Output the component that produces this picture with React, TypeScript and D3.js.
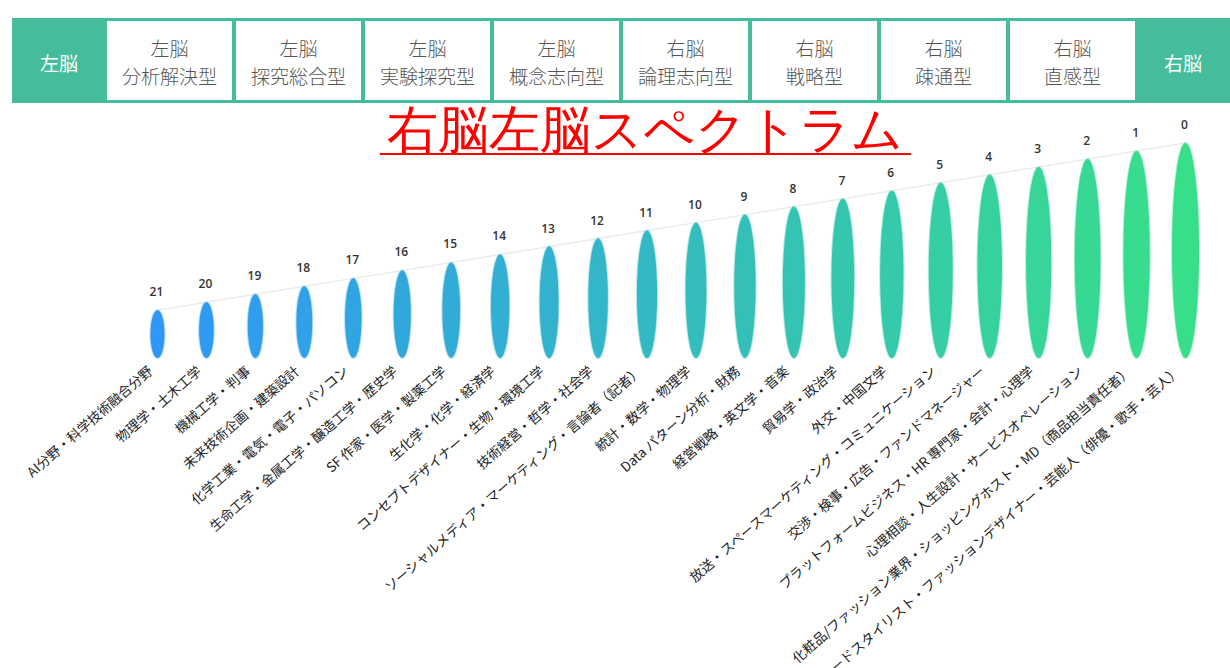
// Right-brain / left-brain spectrum: header strip of brain types, then a row of
// ellipse "bars" growing from left to right, each with its rank and field labels.

import * as d3 from "d3";

const W = 1230, H = 668;

const edgeLeft = "左脳";
const edgeRight = "右脳";
const typeSide = ["左脳", "左脳", "左脳", "左脳", "右脳", "右脳", "右脳", "右脳"];
const typeName = ["分析解決型", "探究総合型", "実験探究型", "概念志向型", "論理志向型", "戦略型", "疎通型", "直感型"];

const title = "右脳左脳スペクトラム";

const ranks = ["21", "20", "19", "18", "17", "16", "15", "14", "13", "12", "11",
  "10", "9", "8", "7", "6", "5", "4", "3", "2", "1", "0"];
const fields = [
  "AI分野・科学技術融合分野",
  "物理学・土木工学",
  "機械工学・判事",
  "未来技術企画・建築設計",
  "化学工業・電気・電子・パソコン",
  "生命工学・金属工学・醸造工学・歴史学",
  "SF 作家・医学・製薬工学",
  "生化学・化学・経済学",
  "コンセプトデザイナー・生物・環境工学",
  "技術経営・哲学・社会学",
  "ソーシャルメディア・マーケティング・言論者（記者）",
  "統計・数学・物理学",
  "Data パターン分析・財務",
  "経営戦略・英文学・音楽",
  "貿易学・政治学",
  "外交・中国文学",
  "放送・スペースマーケティング・コミュニケーション",
  "交渉・検事・広告・ファンドマネージャー",
  "プラットフォームビジネス・HR 専門家・会計・心理学",
  "心理相談・人生設計・サービスオペレーション",
  "化粧品/ファッション業界・ショッピングホスト・MD（商品担当責任者）",
  "フードスタイリスト・ファッションデザイナー・芸能人（俳優・歌手・芸人）",
];
const scores = [6, 7, 8, 9, 10, 11, 12, 13, 14, 15, 16, 17, 18, 19, 20, 21, 22, 23, 24, 25, 26, 27];

const GREEN = "#45bd9c";
const JP = "'Noto Sans CJK JP', 'Noto Sans', sans-serif";

export default function App() {
  const boxX = d3.scaleBand<number>().domain(typeName.map((_, i) => i))
    .range([107, 1135]).paddingInner(0.031).paddingOuter(0);

  const x = d3.scaleBand<string>().domain(ranks).range([133, 1210]);
  const base = 358;
  const y = d3.scaleLinear().domain([0, 27]).range([base, 143]);
  const wid = d3.scaleLinear().domain([6, 27]).range([14, 27]);
  const col = d3.scaleLinear<string>().domain([0, ranks.length - 1])
    .range(["#2f97f6", "#38df8a"]).interpolate(d3.interpolateRgb);

  const tops = ranks.map((r, i) => [x(r)! + x.bandwidth() / 2, y(scores[i])] as [number, number]);
  const topLine = d3.line()(tops) ?? "";

  return (
    <div>
      <style>{"body{margin:0;background:#fff}"}</style>
      <svg width={W} height={H} style={{ display: "block" }}>
        {/* header strip */}
        <rect x={12} y={18} width={W - 12} height={85} fill={GREEN} />
        <text x={59} y={62} fill="#fff" fontSize={19} fontFamily={JP}
              textAnchor="middle" dominantBaseline="central">{edgeLeft}</text>
        <text x={1183} y={62} fill="#fff" fontSize={19} fontFamily={JP}
              textAnchor="middle" dominantBaseline="central">{edgeRight}</text>
        {typeName.map((t, i) => {
          const bx = boxX(i)!, cx = bx + boxX.bandwidth() / 2;
          return (
            <g key={t}>
              <rect x={bx} y={21} width={boxX.bandwidth()} height={79} fill="#fff" />
              <text x={cx} y={47} fill="#555" fontSize={19} fontWeight={300} fontFamily={JP}
                    textAnchor="middle" dominantBaseline="central">{typeSide[i]}</text>
              <text x={cx} y={75} fill="#555" fontSize={19} fontWeight={300} fontFamily={JP}
                    textAnchor="middle" dominantBaseline="central">{t}</text>
            </g>
          );
        })}

        {/* title */}
        <text x={645} y={147} fill="#f00" fontSize={51} fontWeight={300} fontFamily="serif"
              textAnchor="middle">{title}</text>
        <line x1={380} x2={911} y1={154} y2={154} stroke="#f00" strokeWidth={2} />

        {/* faint line through tops */}
        <path d={topLine} fill="none" stroke="#ebebeb" strokeWidth={1.5} />

        {ranks.map((r, i) => {
          const cx = x(r)! + x.bandwidth() / 2;
          const top = y(scores[i]);
          const ry = (base - top) / 2;
          return (
            <g key={r}>
              <ellipse cx={cx} cy={top + ry} rx={wid(scores[i]) / 2} ry={ry}
                       fill={col(i)} stroke={col(i)} strokeOpacity={0.35} strokeWidth={2} />
              <text x={cx - 1} y={top - 14} fill="#333" fontSize={12} fontWeight={600}
                    fontFamily="'Open Sans', sans-serif" textAnchor="middle">{r}</text>
              <text transform={`translate(${cx - 7},${base + 11}) rotate(-41)`}
                    fill="#222" fontSize={13.5} fontFamily={JP} textAnchor="end"
                    dy="0.35em">{fields[i]}</text>
            </g>
          );
        })}
      </svg>
    </div>
  );
}
